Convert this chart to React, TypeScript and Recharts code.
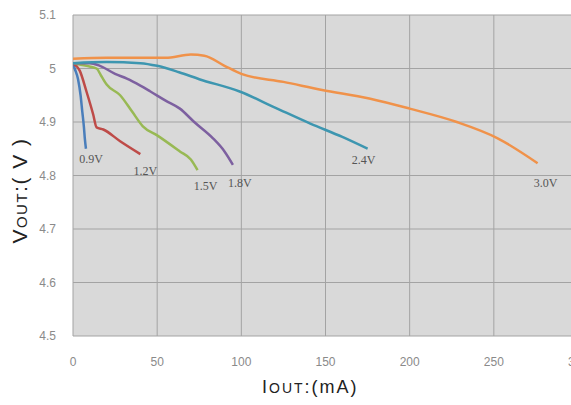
import React from "react";
import { LineChart, Line, XAxis, YAxis, CartesianGrid } from "recharts";

// ---- data ----
const xTicks = [0, 50, 100, 150, 200, 250, 300];
const yTicks = [4.5, 4.6, 4.7, 4.8, 4.9, 5.0, 5.1];

const seriesNames = ["0.9V", "1.2V", "1.5V", "1.8V", "2.4V", "3.0V"];

const iout09 = [0, 1, 3, 4.5, 5.5, 6.5, 7, 7.7];
const vout09 = [5.01, 5.0, 4.98, 4.95, 4.92, 4.89, 4.87, 4.85];

const iout12 = [0, 4, 8, 12, 14, 18, 28, 40];
const vout12 = [5.01, 4.996, 4.957, 4.914, 4.89, 4.886, 4.864, 4.84];

const iout15 = [0, 8, 14, 17, 20, 28, 35, 41.5, 50, 63.5, 70, 74];
const vout15 = [5.01, 5.005, 5.0, 4.985, 4.97, 4.95, 4.92, 4.892, 4.875, 4.845, 4.83, 4.81];

const iout18 = [0, 10, 16, 25, 32, 40, 46, 55, 63.5, 72, 83, 90, 95];
const vout18 = [5.01, 5.01, 5.005, 4.99, 4.981, 4.968, 4.957, 4.94, 4.925, 4.9, 4.87, 4.845, 4.82];

const iout24 = [0, 20, 40, 50, 63, 75, 99, 120, 141, 160, 175];
const vout24 = [5.01, 5.012, 5.01, 5.005, 4.993, 4.98, 4.957, 4.927, 4.897, 4.872, 4.85];

const iout30 = [0, 20, 40, 55, 70, 78, 90, 100, 125, 148, 176, 200, 228, 252, 276];
const vout30 = [5.018, 5.02, 5.02, 5.02, 5.026, 5.024, 5.005, 4.99, 4.975, 4.96, 4.944, 4.925, 4.9, 4.87, 4.823];

const seriesI = [iout09, iout12, iout15, iout18, iout24, iout30];
const seriesV = [vout09, vout12, vout15, vout18, vout24, vout30];

// ---- styles ----
const colors = ["#4a7ebb", "#be4b48", "#98b954", "#7d60a0", "#3d96b0", "#f0924a"];
const labelOffsets = [
  [5, 14],
  [5, 21],
  [8, 20],
  [7, 22],
  [-4, 15],
  [8, 24],
];

const series = seriesNames.map((name, s) => ({
  name,
  data: seriesI[s].map((x, i) => ({ x, y: seriesV[s][i] })),
}));

const tickStyle = { fontFamily: "Liberation Sans, Arial, sans-serif", fontSize: 12, fill: "#8a8a8a" };

function makeEndLabel(s: number) {
  const n = series[s].data.length;
  return (props: any) => {
    if (props.index !== n - 1) return null;
    const [dx, dy] = labelOffsets[s];
    return (
      <text
        x={props.x + dx}
        y={props.y + dy}
        textAnchor="middle"
        fontFamily="Liberation Serif, serif"
        fontSize={12}
        fill="#555555"
      >
        {seriesNames[s]}
      </text>
    );
  };
}

const YTitle = (props: any) => {
  const vb = props.viewBox || {};
  const cx = 27;
  const cy = vb.y + vb.height / 2 + 15;
  return (
    <text
      x={cx}
      y={cy}
      transform={`rotate(-90, ${cx}, ${cy})`}
      textAnchor="middle"
      fontFamily="Liberation Sans, Arial, sans-serif"
      fill="#222"
      fontSize={21}
      letterSpacing={1.5}
    >
      V<tspan fontSize={15}>OUT</tspan>:(<tspan> V </tspan>)
    </text>
  );
};

const XTitle = (props: any) => {
  const vb = props.viewBox || {};
  const x = 262;
  const y = 393;
  return (
    <text
      x={x}
      y={y}
      textAnchor="start"
      fontFamily="Liberation Sans, Arial, sans-serif"
      fill="#222"
      fontSize={18}
      letterSpacing={2}
    >
      I<tspan fontSize={14}>OUT</tspan>:(mA)
    </text>
  );
};

export default function App() {
  return (
    <div style={{ position: "absolute", left: 0, top: 0, width: 571, height: 405, overflow: "hidden", background: "#fff" }}>
      <LineChart width={600} height={405} margin={{ top: 15, right: 22, bottom: 0, left: 0 }}>
        <CartesianGrid fill="#d9d9d9" stroke="#a3a3a3" strokeWidth={1} />
        <XAxis
          type="number"
          dataKey="x"
          domain={[0, 300]}
          ticks={xTicks}
          allowDataOverflow
          height={69}
          axisLine={false}
          tickLine={false}
          tickSize={0}
          tickMargin={21}
          tick={tickStyle}
          label={<XTitle />}
        />
        <YAxis
          type="number"
          dataKey="y"
          domain={[4.5, 5.1]}
          ticks={yTicks}
          allowDataOverflow
          width={73}
          axisLine={false}
          tickLine={false}
          tickSize={0}
          tickMargin={17}
          tick={tickStyle}
          tickFormatter={(v: number) => String(Number(v.toFixed(1)))}
          label={<YTitle />}
        />
        {series.map((s, i) => (
          <Line
            key={s.name}
            data={s.data}
            dataKey="y"
            type="monotone"
            stroke={colors[i]}
            strokeWidth={2.5}
            dot={false}
            isAnimationActive={false}
            label={makeEndLabel(i)}
          />
        ))}
      </LineChart>
    </div>
  );
}
